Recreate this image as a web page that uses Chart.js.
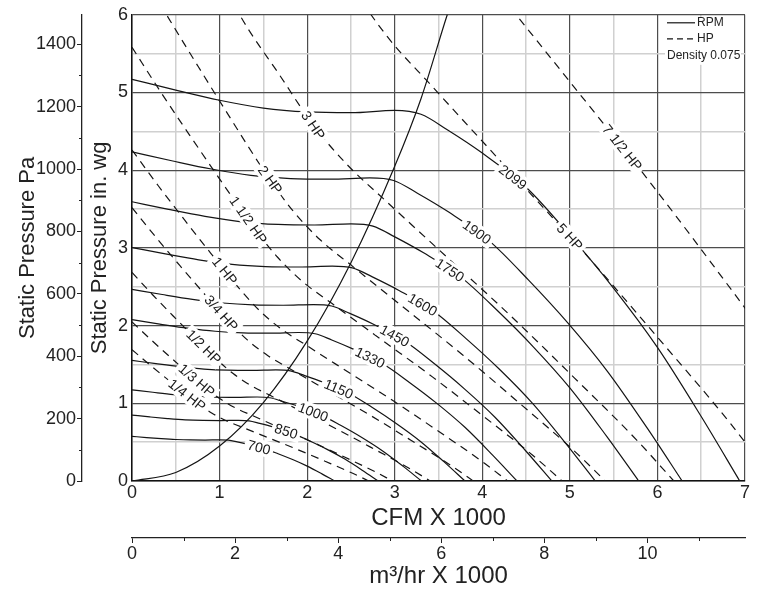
<!DOCTYPE html>
<html><head><meta charset="utf-8">
<script src="https://cdn.jsdelivr.net/npm/chart.js@4.4.1/dist/chart.umd.min.js"></script>
<style>html,body{margin:0;padding:0;background:#fff}</style>
</head><body>
<canvas id="c" width="757" height="592" style="display:block;width:757px;height:592px"></canvas>
<script>
// ---- Fan speed curves (CFM x1000, static pressure in. wg) ----
const rpm700  = [[0,.575],[.167,.559],[.334,.545],[.500,.534],[.667,.528],[.834,.527],[1.001,.529],[1.101,.525],[1.201,.503],[1.334,.469],[1.501,.420],[1.668,.351],[1.834,.276],[2.001,.191],[2.168,.092],[2.314,0]];
const rpm850  = [[0,.848],[.203,.825],[.405,.804],[.608,.787],[.810,.779],[1.013,.777],[1.215,.781],[1.337,.774],[1.458,.741],[1.620,.692],[1.823,.620],[2.025,.518],[2.228,.407],[2.430,.282],[2.633,.136],[2.811,0]];
const rpm1000 = [[0,1.174],[.238,1.142],[.476,1.112],[.715,1.090],[.953,1.078],[1.191,1.076],[1.429,1.081],[1.572,1.071],[1.715,1.026],[1.906,.958],[2.144,.858],[2.382,.717],[2.620,.563],[2.858,.390],[3.097,.188],[3.306,0]];
const rpm1150 = [[0,1.552],[.274,1.510],[.548,1.471],[.822,1.441],[1.096,1.426],[1.370,1.423],[1.644,1.429],[1.808,1.417],[1.972,1.357],[2.192,1.267],[2.466,1.135],[2.740,.949],[3.013,.744],[3.287,.516],[3.561,.249],[3.802,0]];
const rpm1330 = [[0,2.076],[.317,2.020],[.634,1.967],[.950,1.927],[1.267,1.907],[1.584,1.903],[1.901,1.911],[2.091,1.895],[2.281,1.815],[2.534,1.694],[2.851,1.518],[3.168,1.269],[3.485,.996],[3.802,.691],[4.118,.333],[4.397,0]];
const rpm1450 = [[0,2.467],[.345,2.400],[.691,2.338],[1.036,2.291],[1.382,2.267],[1.727,2.262],[2.072,2.271],[2.280,2.252],[2.487,2.157],[2.763,2.014],[3.109,1.804],[3.454,1.508],[3.799,1.183],[4.145,.821],[4.490,.396],[4.794,0]];
const rpm1600 = [[0,3.004],[.381,2.923],[.762,2.847],[1.143,2.789],[1.525,2.760],[1.906,2.754],[2.287,2.766],[2.516,2.743],[2.744,2.627],[3.049,2.452],[3.430,2.197],[3.812,1.836],[4.193,1.441],[4.574,.999],[4.955,.482],[5.290,0]];
const rpm1750 = [[0,3.594],[.417,3.496],[.834,3.406],[1.251,3.336],[1.667,3.302],[2.084,3.295],[2.501,3.309],[2.751,3.281],[3.001,3.142],[3.335,2.933],[3.752,2.627],[4.169,2.197],[4.585,1.724],[5.002,1.196],[5.419,.577],[5.786,0]];
const rpm1900 = [[0,4.236],[.453,4.122],[.905,4.015],[1.358,3.933],[1.810,3.892],[2.263,3.884],[2.716,3.900],[2.987,3.868],[3.259,3.704],[3.621,3.458],[4.073,3.097],[4.526,2.589],[4.979,2.032],[5.431,1.409],[5.884,.680],[6.282,0]];
const rpm2099 = [[0,5.17],[.5,5.03],[1,4.90],[1.5,4.80],[2,4.75],[2.5,4.74],[3,4.77],[3.3,4.72],[3.6,4.52],[4,4.22],[4.5,3.78],[5,3.16],[5.5,2.48],[6,1.72],[6.5,.83],[6.94,0]];
const rpmCurves = [rpm700, rpm850, rpm1000, rpm1150, rpm1330, rpm1450, rpm1600, rpm1750, rpm1900, rpm2099];
const rpmNames  = ['700','850','1000','1150','1330','1450','1600','1750','1900','2099'];
const rpmLabelCfm = [1.45, 1.76, 2.07, 2.36, 2.72, 3.0, 3.32, 3.63, 3.94, 4.35];

// ---- Horsepower curves ----
const hpQuarter = [[0,1.691],[.189,1.508],[.378,1.334],[.567,1.163],[.756,.996],[.914,.873],[1.071,.778],[1.260,.691],[1.575,.548],[1.890,.405],[2.205,.254],[2.520,.099],[2.703,0]];
const hpThird   = [[0,2.048],[.208,1.827],[.416,1.615],[.624,1.408],[.832,1.207],[1.005,1.058],[1.179,.942],[1.387,.836],[1.734,.663],[2.080,.490],[2.427,.308],[2.774,.120],[2.975,0]];
const hpHalf    = [[0,2.684],[.238,2.394],[.476,2.117],[.714,1.846],[.952,1.581],[1.151,1.386],[1.349,1.235],[1.587,1.096],[1.984,.869],[2.381,.643],[2.778,.403],[3.175,.158],[3.405,0]];
const hp3Quarter= [[0,3.517],[.273,3.137],[.545,2.774],[.818,2.419],[1.090,2.072],[1.317,1.816],[1.545,1.618],[1.817,1.436],[2.272,1.139],[2.726,.842],[3.180,.528],[3.634,.206],[3.898,0]];
const hpOne     = [[0,4.26],[.3,3.80],[.6,3.36],[.9,2.93],[1.2,2.51],[1.45,2.20],[1.7,1.96],[2.0,1.74],[2.5,1.38],[3.0,1.02],[3.5,.64],[4.0,.25],[4.29,0]];
const hpOneHalf = [[0,5.582],[.343,4.980],[.687,4.403],[1.030,3.839],[1.374,3.289],[1.660,2.883],[1.946,2.568],[2.289,2.280],[2.862,1.808],[3.434,1.337],[4.006,.839],[4.579,.328],[4.911,0]];
const hpTwo     = [[0,6.762],[.378,6.032],[.756,5.334],[1.134,4.651],[1.512,3.984],[1.827,3.492],[2.142,3.111],[2.520,2.762],[3.150,2.191],[3.780,1.619],[4.410,1.016],[5.040,.397],[5.405,0]];
const hpThree   = [[.40,7.904],[.80,6.989],[1.22,6.02],[1.70,5.20],[2.07,4.58],[2.452,4.077],[2.884,3.619],[3.606,2.871],[4.327,2.122],[5.048,1.331],[5.769,.520],[6.187,0]];
const hpFive    = [[1.539,8.567],[2.052,7.339],[2.480,6.433],[2.907,5.731],[3.420,5.088],[4.275,4.035],[5.130,2.982],[5.985,1.871],[6.840,.731],[7.336,0]];
const hpSevenHalf=[[2.838,8.429],[3.328,7.510],[3.915,6.667],[4.894,5.287],[5.872,3.908],[6.851,2.452],[7.830,.958]];
const hpCurves = [hpQuarter, hpThird, hpHalf, hp3Quarter, hpOne, hpOneHalf, hpTwo, hpThree, hpFive, hpSevenHalf];
const hpNames  = ['1/4 HP','1/3 HP','1/2 HP','3/4 HP','1 HP','1 1/2 HP','2 HP','3 HP','5 HP','7 1/2 HP'];
const hpLabelCfm = [0.63, 0.74, 0.82, 1.02, 1.06, 1.33, 1.58, 2.07, 5.0, 5.6];

// ---- System curve ----
const systemCurve = [[0,0],[0.5,0.11],[1,0.45],[1.5,1.01],[2,1.8],[2.5,2.81],[3,4.05],[3.3,4.92],[3.6,6.0],[3.75,6.5]];

// ---- Axes / ticks ----
const cfmTickValues = [0,0.5,1,1.5,2,2.5,3,3.5,4,4.5,5,5.5,6,6.5,7];
const wgTickValues  = [0,0.5,1,1.5,2,2.5,3,3.5,4,4.5,5,5.5,6];
const paTickValues  = [0,100,200,300,400,500,600,700,800,900,1000,1100,1200,1300,1400];
const m3hTickValues = [0,1,2,3,4,5,6,7,8,9,10,11];
const cfmRange = [0, 7];
const wgRange = [0, 6];
const paPerInWg = 249.09;
const m3hPerCfm = 1.699;
const legendItems = ['RPM', 'HP'];
const densityText = 'Density 0.075';

const FONT = '"Liberation Sans", Arial, Helvetica, sans-serif';
Chart.defaults.font.family = FONT;
Chart.defaults.color = '#222';

const toPts = arr => arr.map(p => ({x: p[0], y: p[1]}));
const isInt = v => Math.abs(v - Math.round(v)) < 1e-6;
const setTicks = vals => s => { s.ticks = vals.map(v => ({value: v})); };

const datasets = [];
rpmCurves.forEach((c, i) => datasets.push({
  data: toPts(c), showLine: true, borderColor: '#151515', borderWidth: 1.2,
  pointRadius: 0, cubicInterpolationMode: 'monotone', clip: 0,
  labelText: rpmNames[i], labelAt: rpmLabelCfm[i]
}));
hpCurves.forEach((c, i) => datasets.push({
  data: toPts(c), showLine: true, borderColor: '#151515', borderWidth: 1.2, borderDash: [8, 6],
  pointRadius: 0, cubicInterpolationMode: 'monotone', clip: 0,
  labelText: hpNames[i], labelAt: hpLabelCfm[i]
}));
datasets.push({
  data: toPts(systemCurve), showLine: true, borderColor: '#151515', borderWidth: 1.2,
  pointRadius: 0, cubicInterpolationMode: 'monotone', clip: 0
});

const bgPlugin = {
  id: 'bg',
  beforeDraw(chart) {
    const ctx = chart.ctx;
    ctx.save(); ctx.fillStyle = '#fff'; ctx.fillRect(0, 0, chart.width, chart.height); ctx.restore();
  }
};

const labelPlugin = {
  id: 'lineLabels',
  afterDatasetsDraw(chart) {
    const ctx = chart.ctx;
    const xs = chart.scales.x;
    chart.data.datasets.forEach((ds, i) => {
      if (!ds.labelText) return;
      const pts = chart.getDatasetMeta(i).data;
      const px = xs.getPixelForValue(ds.labelAt);
      let k = 0;
      while (k < pts.length - 2 && pts[k + 1].x < px) k++;
      const a = pts[k], b = pts[k + 1];
      const t = (px - a.x) / (b.x - a.x);
      const py = a.y + t * (b.y - a.y);
      const ang = Math.atan2(b.y - a.y, b.x - a.x);
      ctx.save();
      ctx.translate(px, py);
      ctx.rotate(ang);
      ctx.font = '14px ' + FONT;
      const w = ctx.measureText(ds.labelText).width;
      ctx.fillStyle = '#fff';
      ctx.fillRect(-w / 2 - 3, -8, w + 6, 16);
      ctx.fillStyle = '#1a1a1a';
      ctx.textAlign = 'center'; ctx.textBaseline = 'middle';
      ctx.fillText(ds.labelText, 0, 1);
      ctx.restore();
    });
  }
};

const extrasPlugin = {
  id: 'extras',
  afterDraw(chart) {
    const ctx = chart.ctx;
    const ca = chart.chartArea;
    // legend
    ctx.save();
    ctx.fillStyle = '#fff';
    ctx.fillRect(ca.right - 80, ca.top + 2, 76, 48);
    ctx.strokeStyle = '#151515'; ctx.lineWidth = 1.2;
    ctx.beginPath(); ctx.moveTo(ca.right - 78, ca.top + 8); ctx.lineTo(ca.right - 50, ca.top + 8); ctx.stroke();
    ctx.setLineDash([6, 4]);
    ctx.beginPath(); ctx.moveTo(ca.right - 78, ca.top + 24); ctx.lineTo(ca.right - 50, ca.top + 24); ctx.stroke();
    ctx.setLineDash([]);
    ctx.fillStyle = '#222';
    ctx.font = '12px ' + FONT;
    ctx.textBaseline = 'middle'; ctx.textAlign = 'left';
    ctx.fillText(legendItems[0], ca.right - 48, ca.top + 8);
    ctx.fillText(legendItems[1], ca.right - 48, ca.top + 24);
    ctx.fillText(densityText, ca.right - 78, ca.top + 41);
    // minor ticks on secondary axes
    ctx.strokeStyle = '#222'; ctx.lineWidth = 1;
    const yPa = chart.scales.yPa;
    paTickValues.forEach(v => {
      if (v % 200 === 0) return;
      const y = Math.round(yPa.getPixelForValue(v)) + 0.5;
      ctx.beginPath(); ctx.moveTo(yPa.right - 3, y); ctx.lineTo(yPa.right, y); ctx.stroke();
    });
    const xM = chart.scales.xM;
    m3hTickValues.forEach(v => {
      if (v % 2 === 0) return;
      const x = Math.round(xM.getPixelForValue(v)) + 0.5;
      ctx.beginPath(); ctx.moveTo(x, xM.top); ctx.lineTo(x, xM.top + 3); ctx.stroke();
    });
    ctx.restore();
  }
};

const gridColor = c => (c.tick && isInt(c.tick.value)) ? '#4d4d4d' : '#d0d0d0';
const gridWidth = c => (c.tick && isInt(c.tick.value)) ? 1.2 : 1.5;

new Chart(document.getElementById('c'), {
  type: 'scatter',
  data: { datasets },
  plugins: [bgPlugin, labelPlugin, extrasPlugin],
  options: {
    responsive: false, animation: false, devicePixelRatio: 1, events: [],
    layout: { padding: { top: 14, right: 12, left: 0, bottom: 0 } },
    plugins: { legend: { display: false }, tooltip: { enabled: false } },
    scales: {
      x: {
        type: 'linear', position: 'bottom', weight: 0, min: cfmRange[0], max: cfmRange[1],
        afterBuildTicks: setTicks(cfmTickValues),
        ticks: { autoSkip: false, maxRotation: 0, padding: 1,
          font: { size: 18, lineHeight: 1.2 }, color: '#222',
          callback: v => isInt(v) ? String(Math.round(v)) : '' },
        grid: { color: gridColor, lineWidth: gridWidth, drawTicks: false },
        border: { display: true, color: '#111', width: 1.5 },
        title: { display: true, text: 'CFM X 1000', font: { size: 24, lineHeight: 1.2 }, color: '#222', padding: { top: 0, bottom: 5 } },
        afterFit: s => { s.height = 57; }
      },
      xM: {
        type: 'linear', position: 'bottom', weight: 1, min: 0, max: cfmRange[1] * m3hPerCfm,
        afterBuildTicks: setTicks(m3hTickValues),
        ticks: { autoSkip: false, maxRotation: 0, padding: 0,
          font: { size: 18, lineHeight: 1.2 }, color: '#222',
          callback: v => (Math.round(v) % 2 === 0) ? String(Math.round(v)) : '' },
        grid: { drawOnChartArea: false, drawTicks: true, tickLength: 5,
          tickColor: c => (c.tick && Math.round(c.tick.value) % 2 === 0) ? '#222' : 'rgba(0,0,0,0)', tickWidth: 1 },
        border: { display: true, color: '#222', width: 1.3 },
        title: { display: true, text: 'm³/hr X 1000', font: { size: 24, lineHeight: 1.2 }, color: '#222', padding: { top: 0, bottom: 1 } },
        afterFit: s => { s.height = 54; }
      },
      y: {
        type: 'linear', position: 'left', weight: 0, min: wgRange[0], max: wgRange[1],
        afterBuildTicks: setTicks(wgTickValues),
        ticks: { autoSkip: false, padding: 4,
          font: { size: 18, lineHeight: 1.2 }, color: '#222',
          callback: v => isInt(v) ? String(Math.round(v)) : '' },
        grid: { color: gridColor, lineWidth: gridWidth, drawTicks: false },
        border: { display: true, color: '#111', width: 1.5 },
        title: { display: true, text: 'Static Pressure in. wg', font: { size: 22, lineHeight: 1.2 }, color: '#222', padding: { top: 5, bottom: 0 } },
        afterFit: s => { s.width = 50; }
      },
      yPa: {
        type: 'linear', position: 'left', weight: 1, min: 0, max: wgRange[1] * paPerInWg,
        afterBuildTicks: setTicks(paTickValues),
        ticks: { autoSkip: false, padding: 1,
          font: { size: 18, lineHeight: 1.2 }, color: '#222',
          callback: v => (Math.round(v) % 200 === 0) ? String(Math.round(v)) : '' },
        grid: { drawOnChartArea: false, drawTicks: true, tickLength: 5,
          tickColor: c => (c.tick && Math.round(c.tick.value) % 200 === 0) ? '#222' : 'rgba(0,0,0,0)', tickWidth: 1 },
        border: { display: true, color: '#222', width: 1.3 },
        title: { display: true, text: 'Static Pressure Pa', font: { size: 22, lineHeight: 1.2 }, color: '#222', padding: { top: 15, bottom: 0 } },
        afterFit: s => { s.width = 82; }
      }
    }
  }
});
</script>
</body></html>
